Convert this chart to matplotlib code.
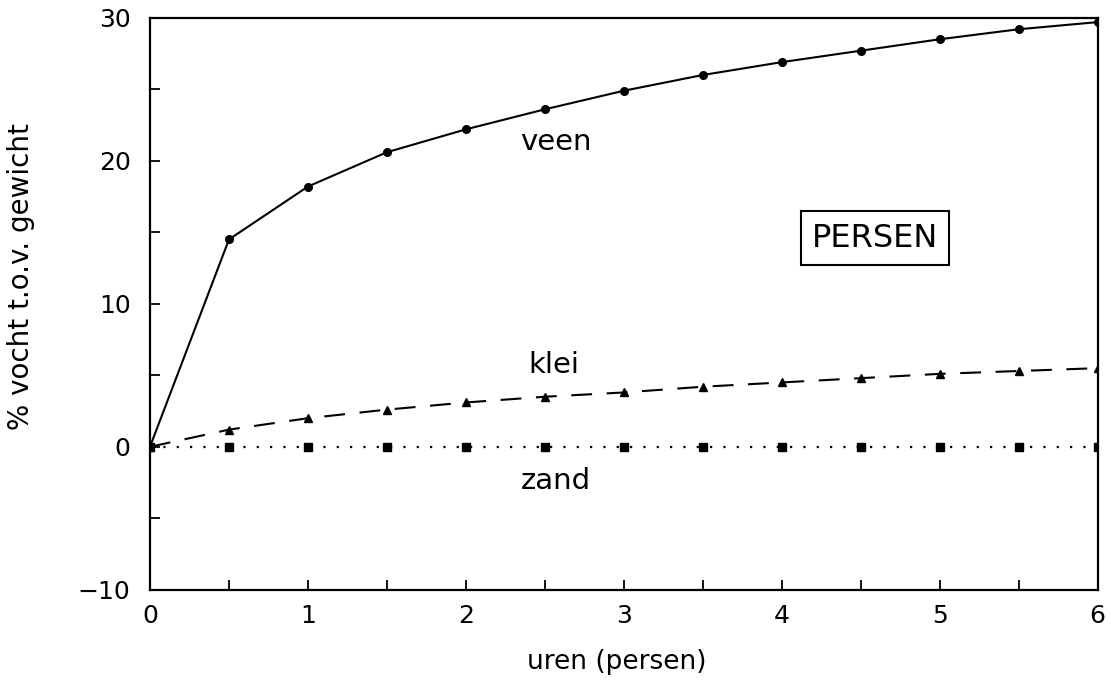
import matplotlib.pyplot as plt

# uren persen
uren = [0, 0.5, 1, 1.5, 2, 2.5, 3, 3.5, 4, 4.5, 5, 5.5, 6]

# % vocht t.o.v. gewicht
veen = [0, 14.5, 18.2, 20.6, 22.2, 23.6, 24.9, 26.0, 26.9, 27.7, 28.5, 29.2, 29.7]
klei = [0, 1.2, 2.0, 2.6, 3.1, 3.5, 3.8, 4.2, 4.5, 4.8, 5.1, 5.3, 5.5]
zand = [0, 0, 0, 0, 0, 0, 0, 0, 0, 0, 0, 0, 0]

fig = plt.figure(figsize=(11.11, 6.85), dpi=100)
ax = fig.add_axes([0.135, 0.139, 0.853, 0.835])

ax.plot(uren, veen, color='black', lw=1.5, marker='o', ms=5.5)
ax.plot(uren, klei, color='black', lw=1.5, ls=(0, (10, 7)), marker='^', ms=5.5)
ax.plot(uren, zand, color='black', lw=1.6, ls=(0, (1, 5)), marker='s', ms=5.5)

ax.text(2.57, 21.3, 'veen', fontsize=21, ha='center', va='center')
ax.text(2.56, 5.7, 'klei', fontsize=21, ha='center', va='center')
ax.text(2.57, -2.4, 'zand', fontsize=21, ha='center', va='center')
ax.text(4.59, 14.6, 'PERSEN', fontsize=23, ha='center', va='center',
        bbox=dict(boxstyle='square,pad=0.35', fc='white', ec='black', lw=1.5))

ax.set_xlim(0, 6)
ax.set_ylim(-10, 30)
ax.set_xticks([0, 1, 2, 3, 4, 5, 6])
ax.set_xticks([0.5, 1.5, 2.5, 3.5, 4.5, 5.5], minor=True)
ax.set_yticks([-10, 0, 10, 20, 30])
ax.set_yticks([-5, 5, 15, 25], minor=True)
ax.tick_params(which='both', direction='in', length=7, width=1.3, labelsize=18, pad=10)
ax.tick_params(axis='y', pad=14)
for s in ax.spines.values():
    s.set_linewidth(1.6)

ax.set_xlabel('uren (persen)', fontsize=19)
ax.set_ylabel('% vocht t.o.v. gewicht', fontsize=20)
ax.xaxis.set_label_coords(0.493, -0.103)
ax.yaxis.set_label_coords(-0.121, 0.547)

fig.savefig('out.png', dpi=100)
